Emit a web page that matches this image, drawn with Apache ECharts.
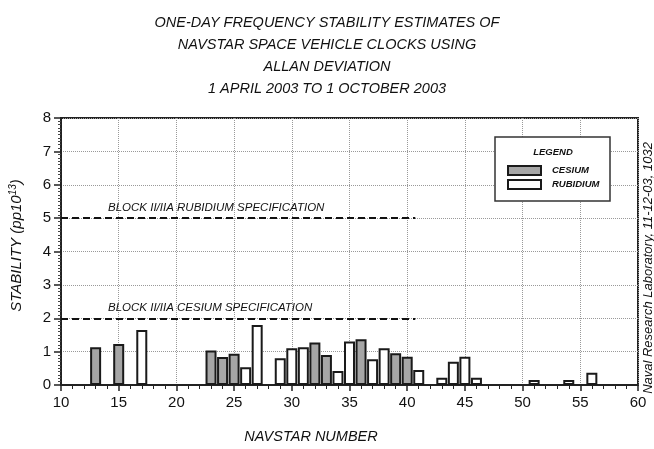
<!DOCTYPE html>
<html>
<head>
<meta charset="utf-8">
<script src="https://cdn.jsdelivr.net/npm/echarts@6/dist/echarts.min.js"></script>
<style>
  html, body { margin: 0; padding: 0; background: #fff; }
</style>
</head>
<body>
<div id="main" style="width:654px;height:449px;"></div>
<script>
  // NAVSTAR numbers and one-day Allan deviation (pp10^13)
  var cesiumNav = [13, 15, 23, 24, 25, 32, 33, 36, 39, 40];
  var cesiumVal = [1.13, 1.23, 1.03, 0.84, 0.94, 1.27, 0.9, 1.37, 0.95, 0.85];
  var rubidiumNav = [17, 26, 27, 29, 30, 31, 34, 35, 37, 38, 41, 43, 44, 45, 46, 51, 54, 56];
  var rubidiumVal = [1.65, 0.53, 1.8, 0.8, 1.1, 1.13, 0.42, 1.3, 0.77, 1.1, 0.45, 0.22, 0.7, 0.85, 0.22, 0.15, 0.15, 0.37];

  // specification lines
  var specNames = ['BLOCK II/IIA RUBIDIUM SPECIFICATION', 'BLOCK II/IIA CESIUM SPECIFICATION'];
  var specLevels = [5, 2];
  var specRange = [10, 40.7];

  var font = 'Liberation Sans, Arial, sans-serif';

  function pairs(xs, ys) {
    var out = [];
    for (var i = 0; i < xs.length; i++) out.push([xs[i], ys[i]]);
    return out;
  }

  var specLines = [];
  for (var i = 0; i < specLevels.length; i++) {
    specLines.push([
      { coord: [specRange[0], specLevels[i]], label: { formatter: specNames[i] } },
      { coord: [specRange[1], specLevels[i]] }
    ]);
  }

  var chart = echarts.init(document.getElementById('main'));
  var option = {
    animation: false,
    title: {
      text: 'ONE-DAY FREQUENCY STABILITY ESTIMATES OF\nNAVSTAR SPACE VEHICLE CLOCKS USING\nALLAN DEVIATION\n1 APRIL 2003 TO 1 OCTOBER 2003',
      left: 'center',
      top: 7,
      textStyle: {
        fontFamily: font, fontStyle: 'italic', fontWeight: 'normal',
        fontSize: 14.5, lineHeight: 22, color: '#111'
      }
    },
    grid: {
      left: 61, right: 16, top: 118, bottom: 63,
      show: true, borderColor: '#222', borderWidth: 2, backgroundColor: 'transparent'
    },
    legend: {
      orient: 'vertical',
      left: 502, top: 160,
      icon: 'rect',
      itemWidth: 33, itemHeight: 9, itemGap: 3,
      z: 10,
      data: ['CESIUM', 'RUBIDIUM'],
      textStyle: { fontFamily: font, fontStyle: 'italic', fontWeight: 'bold', fontSize: 9.5, color: '#111', padding: [0, 0, 0, 6] }
    },
    graphic: [
      {
        type: 'rect', z: 5,
        shape: { x: 495, y: 137, width: 115, height: 64 },
        style: { fill: '#fff', stroke: '#333', lineWidth: 1.5 }
      },
      {
        type: 'text', z: 6,
        x: 553, y: 152,
        style: {
          text: 'LEGEND', align: 'center', verticalAlign: 'middle',
          font: 'italic bold 9.5px ' + font, fill: '#111'
        }
      },
      {
        type: 'text', z: 6,
        x: 648, y: 268, rotation: Math.PI / 2,
        style: {
          text: 'Naval Research Laboratory, 11-12-03, 1032', align: 'center', verticalAlign: 'middle',
          font: 'italic 13px ' + font, fill: '#111'
        }
      }
    ],
    xAxis: {
      type: 'value',
      min: 10, max: 60, interval: 5,
      name: 'NAVSTAR NUMBER',
      nameLocation: 'middle',
      nameGap: 44,
      nameTextStyle: { fontFamily: font, fontStyle: 'italic', fontSize: 14.5, color: '#111', padding: [0, 77, 0, 0] },
      axisLine: { lineStyle: { color: '#222', width: 2 } },
      axisTick: { length: 6, lineStyle: { color: '#222', width: 1.5 } },
      minorTick: { show: true, splitNumber: 5, length: 4, lineStyle: { color: '#222' } },
      axisLabel: { fontFamily: font, fontSize: 15, color: '#111', margin: 10 },
      splitLine: { show: true, lineStyle: { color: '#999', type: 'dotted', width: 1 } }
    },
    yAxis: {
      type: 'value',
      min: 0, max: 8, interval: 1,
      name: '{a|STABILITY (pp10}{s|13}{a|)}',
      nameLocation: 'middle',
      nameGap: 36,
      nameRotate: 90,
      nameTextStyle: {
        padding: [0, 0, 0, 12],
        rich: {
          a: { fontFamily: font, fontStyle: 'italic', fontSize: 15, color: '#111' },
          s: { fontFamily: font, fontStyle: 'italic', fontSize: 10, color: '#111', verticalAlign: 'top', padding: [0, 0, 7, 0] }
        }
      },
      axisLine: { show: true, lineStyle: { color: '#222', width: 2 } },
      axisTick: { show: true, length: 7, lineStyle: { color: '#222', width: 1.5 } },
      minorTick: { show: true, splitNumber: 10, length: 3, lineStyle: { color: '#444' } },
      axisLabel: { fontFamily: font, fontSize: 15, color: '#111', margin: 10 },
      splitLine: { show: true, lineStyle: { color: '#999', type: 'dotted', width: 1 } }
    },
    series: [
      {
        name: 'CESIUM',
        type: 'bar',
        barWidth: 11,
        barGap: '-100%',
        itemStyle: { color: '#a6a6a6', borderColor: '#1a1a1a', borderWidth: 2 },
        data: pairs(cesiumNav, cesiumVal),
        markLine: {
          silent: true,
          symbol: 'none',
          lineStyle: { color: '#111', type: [7, 4], width: 2 },
          label: {
            show: true, position: 'insideStartTop', distance: [47, 4],
            fontFamily: font, fontStyle: 'italic', fontSize: 11.5, color: '#111'
          },
          data: specLines
        }
      },
      {
        name: 'RUBIDIUM',
        type: 'bar',
        barWidth: 11,
        barGap: '-100%',
        itemStyle: { color: '#ffffff', borderColor: '#1a1a1a', borderWidth: 2 },
        data: pairs(rubidiumNav, rubidiumVal)
      }
    ]
  };
  chart.setOption(option);
</script>
</body>
</html>
